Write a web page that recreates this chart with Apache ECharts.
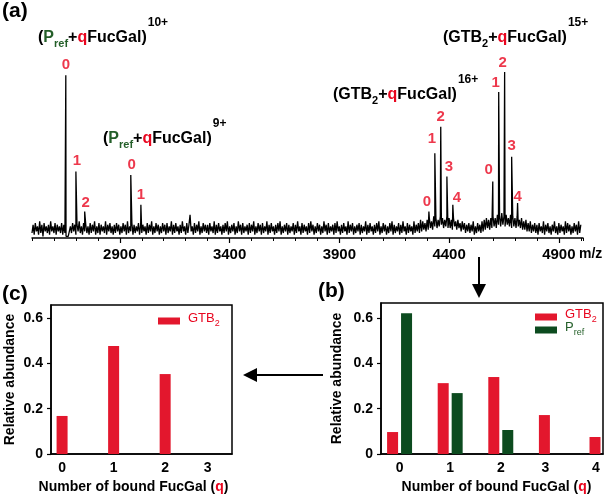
<!DOCTYPE html>
<html><head><meta charset="utf-8">
<script src="https://cdn.jsdelivr.net/npm/echarts@6/dist/echarts.min.js"></script>
<style>html,body{margin:0;padding:0;background:#fff}#c{width:609px;height:495px}</style>
</head><body><div id="c"></div>
<script>
// ---------- data ----------
// mass spectrum baseline (hand-read noise level), one value per 5 m/z from 2500
const noiseStart = 2500, noiseStep = 5;
const noise = [
  3,8,2,9,4,7,2,10,3,8,1,9,4,7,3,8,2,10,4,7,
  3,9,2,8,4,7,3,9,2,8,3,1,1,1,2,7,3,9,4,8,
  2,8,4,10,3,7,2,9,4,8,3,7,2,9,3,8,4,10,2,7,
  3,9,2,8,4,7,3,10,2,8,4,9,3,7,2,8,3,9,4,8,
  2,7,3,9,4,8,2,10,3,7,4,9,2,8,3,7,4,9,2,8,
  3,8,4,7,2,9,3,8,4,10,2,7,3,9,4,8,2,7,3,9,
  4,8,2,9,3,7,4,10,2,8,3,9,4,7,2,8,3,10,4,7,
  2,9,3,8,14,4,7,2,9,3,8,4,10,2,7,3,9,4,8,3,
  8,2,9,4,7,3,10,2,8,3,9,4,7,2,8,3,9,4,10,2,
  7,3,8,4,9,2,7,3,10,4,8,2,9,3,7,4,8,2,9,3,
  8,4,10,2,7,3,9,4,8,2,9,3,7,4,10,2,8,3,9,4,
  7,2,8,3,9,4,10,2,7,3,8,4,9,2,8,3,7,4,9,2,
  8,3,10,4,7,2,9,3,8,4,7,2,9,3,10,4,8,2,7,3,
  9,4,8,2,7,3,10,4,8,2,9,3,7,4,8,2,9,3,10,4,
  7,2,8,3,9,4,7,2,10,3,8,4,9,2,7,3,8,4,9,2,
  8,3,7,4,10,2,8,3,9,4,7,2,8,3,9,4,10,2,7,3,
  9,4,8,2,7,3,9,4,10,2,8,3,7,4,9,2,8,3,10,4,
  7,2,9,3,8,4,7,2,10,3,8,4,9,3,11,4,10,5,9,4,
  11,5,12,6,10,5,13,7,12,6,11,7,13,8,12,6,11,7,13,6,
  12,6,11,5,12,7,10,5,11,6,9,4,10,5,9,3,8,4,9,3,
  8,4,10,2,7,3,9,4,8,3,10,4,11,5,12,6,11,5,12,6,
  13,7,12,6,14,8,13,7,15,8,13,7,14,8,12,7,14,6,13,7,
  12,6,13,7,11,6,12,5,10,5,11,4,9,4,10,3,8,4,9,3,
  8,2,9,4,7,3,10,2,8,4,9,3,7,2,8,4,10,3,7,2,
  9,3,8,4,7,2,10,3,9,4,8,2,7,3,9,4,8,2,10,3,
  8
];
// labelled peaks
const peakMz  = [2654, 2700, 2740, 2950, 2996, 4308, 4335, 4362, 4390, 4417, 4599, 4626, 4653, 4685, 4712];
const peakInt = [98, 40, 16, 38, 20, 16, 51, 67, 37, 20, 34, 88, 100, 49, 21];
const peakQ   = [0, 1, 2, 0, 1, 0, 1, 2, 3, 4, 0, 1, 2, 3, 4];
const mzTicks = [2900, 3400, 3900, 4400, 4900];

// panel (b)
const qB    = [0, 1, 2, 3, 4];
const gtbB  = [0.097, 0.313, 0.340, 0.172, 0.075];
const prefB = [0.622, 0.269, 0.106, 0, 0];
// panel (c)
const qC    = [0, 1, 2, 3];
const gtbC  = [0.168, 0.477, 0.353, 0];
const abundTicks = [0, 0.2, 0.4, 0.6];

// ---------- styling ----------
const FONT = 'Liberation Sans, Arial, Helvetica, sans-serif';
const RED = '#e3172d', RED_T = '#e8061f', GREEN = '#0c4b1f', GREEN_T = '#245f29';
const labelOff = [[0,0],[1,0],[1,2],[1,0],[0,1],[-2,1],[-3,-4],[0,1],[2,1],[4,4],[-4,-1],[-3,1],[-2,1],[0,0],[0,4]];

const spectrum = noise.map((v, i) => [noiseStart + i * noiseStep, v]);
peakMz.forEach((m, i) => spectrum.push([m, peakInt[i]]));
spectrum.sort((a, b) => a[0] - b[0]);

const bold14 = {fontFamily: FONT, fontWeight: 'bold', fontSize: 14, color: '#000'};
const tRich = {
  b:   {fontFamily: FONT, fontWeight: 'bold', fontSize: 16, lineHeight: 18, color: '#000', padding: [0,0,5,0], verticalAlign: 'bottom'},
  g:   {fontFamily: FONT, fontWeight: 'bold', fontSize: 16, lineHeight: 18, color: GREEN_T, padding: [0,0,5,0], verticalAlign: 'bottom'},
  r:   {fontFamily: FONT, fontWeight: 'bold', fontSize: 16, lineHeight: 18, color: RED_T, padding: [0,0,5,0], verticalAlign: 'bottom'},
  gs:  {fontFamily: FONT, fontWeight: 'bold', fontSize: 11, lineHeight: 11, color: GREEN_T, padding: [0,0,2,0], verticalAlign: 'bottom'},
  s:   {fontFamily: FONT, fontWeight: 'bold', fontSize: 11, lineHeight: 11, color: '#000', padding: [0,0,2,0], verticalAlign: 'bottom'},
  sup: {fontFamily: FONT, fontWeight: 'bold', fontSize: 12, lineHeight: 13, color: '#000', padding: [0,0,22,1], verticalAlign: 'bottom'}
};
function richTitle(text, left, top) {
  return {text, left, top, padding: 0, textStyle: {rich: tRich}};
}
function plainTitle(text, left, top, size) {
  return {text, left, top, padding: 0, textStyle: {fontFamily: FONT, fontWeight: 'bold', fontSize: size, color: '#000'}};
}

const qName = '{b|Number of bound FucGal (}{r|q}{b|)}';
function qNameStyle(pad) {
  return {padding: pad, rich: {
    b: {fontFamily: FONT, fontWeight: 'bold', fontSize: 14, color: '#000'},
    r: {fontFamily: FONT, fontWeight: 'bold', fontSize: 14, color: RED_T}
  }};
}
const legRich = {
  r:  {fontFamily: FONT, fontSize: 13, color: RED_T, lineHeight: 14, padding: [0,0,3,0], verticalAlign: 'bottom'},
  rs: {fontFamily: FONT, fontSize: 9, color: RED_T, lineHeight: 9, verticalAlign: 'bottom'},
  g:  {fontFamily: FONT, fontSize: 13, color: GREEN_T, lineHeight: 14, padding: [0,0,3,0], verticalAlign: 'bottom'},
  gs: {fontFamily: FONT, fontSize: 9, color: GREEN_T, lineHeight: 9, verticalAlign: 'bottom'}
};
const legFmt = n => n === 'GTB2' ? '{r|GTB}{rs|2}' : '{g|P}{gs|ref}';

function abundY(gridIndex, max, gap) {
  return {
    gridIndex, type: 'value', min: 0, max,
    axisLine: {show: true, onZero: false, lineStyle: {color: '#000', width: 1.5}},
    axisTick: {show: true, customValues: abundTicks, length: 4, lineStyle: {color: '#000', width: 1.2}},
    axisLabel: {customValues: abundTicks, margin: 8, ...bold14, formatter: v => v === 0 ? '0' : v.toFixed(1)},
    splitLine: {show: false},
    name: 'Relative abundance', nameLocation: 'middle', nameGap: gap,
    nameTextStyle: {...bold14}
  };
}
function qX(gridIndex, min, max, ticks, shiftFrom, shiftPad, namePad) {
  return {
    gridIndex, type: 'value', min, max,
    axisLine: {show: true, onZero: false, lineStyle: {color: '#000', width: 1.5}},
    axisTick: {show: false},
    axisLabel: {customValues: ticks, margin: 7, ...bold14,
      formatter: v => v >= shiftFrom ? '{s|' + v + '}' : String(v),
      rich: {s: {...bold14, padding: [0, shiftPad, 0, 0]}}},
    splitLine: {show: false},
    name: qName, nameLocation: 'middle', nameGap: 26, nameTextStyle: qNameStyle(namePad)
  };
}

const chart = echarts.init(document.getElementById('c'));
chart.setOption({
  animation: false,
  backgroundColor: '#fff',
  title: [
    plainTitle('(a)', 2, 1, 21),
    plainTitle('(c)', 2, 284, 21),
    plainTitle('(b)', 318, 281, 21),
    plainTitle('m/z', 579, 247, 14),
    richTitle('{b|(}{g|P}{gs|ref}{b|+}{r|q}{b|FucGal)}{sup|10+}', 38, 33),
    richTitle('{b|(}{g|P}{gs|ref}{b|+}{r|q}{b|FucGal)}{sup|9+}', 103, 134),
    richTitle('{b|(GTB}{s|2}{b|+}{r|q}{b|FucGal)}{sup|16+}', 333, 90),
    richTitle('{b|(GTB}{s|2}{b|+}{r|q}{b|FucGal)}{sup|15+}', 443, 33)
  ],
  legend: [
    {data: ['GTB2'], left: 158, top: 312, padding: 0, orient: 'vertical', icon: 'rect', itemWidth: 22, itemHeight: 7,
     selectedMode: false, formatter: legFmt, textStyle: {rich: legRich, padding: [0,0,0,3]}},
    {data: ['GTB2', 'Pref'], left: 535, top: 308, padding: 0, orient: 'vertical', icon: 'rect', itemWidth: 22, itemHeight: 7,
     itemGap: -3, selectedMode: false, formatter: legFmt, textStyle: {rich: legRich, padding: [0,0,0,3]}}
  ],
  grid: [
    {left: 32, top: 72, width: 551, height: 166},
    {left: 51, top: 305, width: 181, height: 149, show: true, borderColor: '#000', borderWidth: 1.5},
    {left: 381, top: 303, width: 222, height: 151, show: true, borderColor: '#000', borderWidth: 1.5}
  ],
  xAxis: [
    {gridIndex: 0, type: 'value', min: 2500, max: 5010, position: 'bottom',
     axisLine: {show: true, onZero: false, lineStyle: {color: '#000', width: 1.5}},
     axisTick: {show: true, customValues: mzTicks, length: 5, lineStyle: {color: '#000', width: 1.2}},
     axisLabel: {customValues: mzTicks, margin: 9, fontFamily: FONT, fontWeight: 'bold', fontSize: 15, color: '#000',
       formatter: v => String(v)},
     splitLine: {show: false}},
    {gridIndex: 0, type: 'value', min: 2500, max: 5010, interval: 100, position: 'bottom',
     axisLine: {show: false, onZero: false},
     axisTick: {show: true, length: 3, lineStyle: {color: '#000', width: 1}},
     axisLabel: {show: false}, splitLine: {show: false}},
    qX(1, -0.215, 3.297, qC, 3, 18, [0, 16, 0, 0]),
    qX(2, -0.367, 4.02, qB, 3, 12, [0, 0, 0, 9])
  ],
  yAxis: [
    {gridIndex: 0, type: 'value', min: 0, max: 100, show: false, splitLine: {show: false}},
    abundY(1, 0.658, 34),
    abundY(2, 0.667, 37)
  ],
  series: [
    {type: 'line', xAxisIndex: 0, yAxisIndex: 0, data: spectrum, showSymbol: false, symbol: 'none',
     lineStyle: {color: '#000', width: 1.3}, silent: true},
    {type: 'scatter', xAxisIndex: 0, yAxisIndex: 0, symbolSize: 0, silent: true,
     data: peakMz.map((m, i) => ({value: [m, peakInt[i]], label: {offset: labelOff[i]}})),
     label: {show: true, position: 'top', distance: 3, formatter: p => String(peakQ[p.dataIndex]),
       fontFamily: FONT, fontWeight: 'bold', fontSize: 15, color: RED_T}},
    {type: 'bar', name: 'GTB2', xAxisIndex: 2, yAxisIndex: 1, barWidth: 11,
     data: qC.map((q, i) => [q, gtbC[i]]), itemStyle: {color: RED}},
    {type: 'bar', name: 'GTB2', xAxisIndex: 3, yAxisIndex: 2, barWidth: 11, barGap: '27%',
     data: qB.map((q, i) => [q, gtbB[i]]), itemStyle: {color: RED}},
    {type: 'bar', name: 'Pref', xAxisIndex: 3, yAxisIndex: 2, barWidth: 11, barGap: '27%',
     data: qB.map((q, i) => [q, prefB[i]]), itemStyle: {color: GREEN}}
  ],
  graphic: [
    {type: 'line', shape: {x1: 479, y1: 257, x2: 479, y2: 286}, style: {stroke: '#000', lineWidth: 2}},
    {type: 'polygon', shape: {points: [[472, 284], [486, 284], [479, 298]]}, style: {fill: '#000'}},
    {type: 'line', shape: {x1: 254, y1: 375, x2: 323, y2: 375}, style: {stroke: '#000', lineWidth: 2}},
    {type: 'polygon', shape: {points: [[257, 368], [257, 382], [243, 375]]}, style: {fill: '#000'}}
  ]
});
</script>
</body></html>
